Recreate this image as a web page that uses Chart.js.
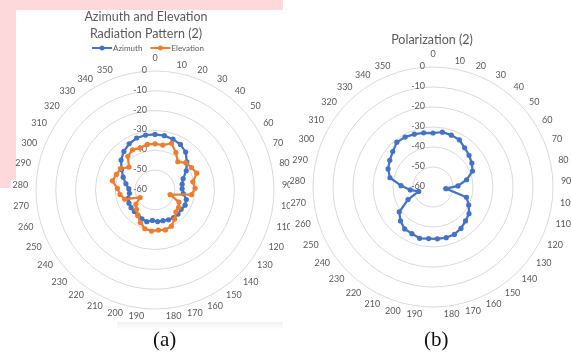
<!DOCTYPE html>
<html><head><meta charset="utf-8">
<script src="https://cdn.jsdelivr.net/npm/chart.js@4.4.1/dist/chart.umd.min.js"></script>
<style>
html,body{margin:0;padding:0;background:#fff;width:571px;height:353px;overflow:hidden;position:relative;font-family:Lato,sans-serif}
canvas{position:absolute;left:0;top:0}
.pink{position:absolute;background:#fdd9dc}
.cap{position:absolute;font-family:"Liberation Serif",serif;font-size:21px;color:#111}
.wrap{position:absolute;overflow:hidden}
</style></head>
<body>
<div class="pink" style="left:0;top:0;width:283px;height:10px"></div>
<div class="pink" style="left:0;top:0;width:16px;height:180px"></div>
<div class="pink" style="left:0;top:180px;width:11px;height:8px"></div>
<div style="position:absolute;left:117px;top:322px;width:166px;height:8px;background:linear-gradient(#f2f2f2,#fff)"></div>
<div class="wrap" style="left:0;top:0;width:290px;height:330px"><canvas id="c1" width="310" height="330"></canvas></div>
<div class="wrap" style="left:290px;top:0;width:281px;height:330px"><canvas id="c2" width="300" height="330"></canvas></div>
<div class="cap" style="left:153px;top:327px">(a)</div>
<div class="cap" style="left:424px;top:327px">(b)</div>
<script>
// 37 categories: 0..350 plus a closing (unlabelled) 360 sample
const angleLabels = ['0','10','20','30','40','50','60','70','80','90','100','110','120','130','140','150','160','170','180','190','200','210','220','230','240','250','260','270','280','290','300','310','320','330','340','350',''];
const rTicks = [0,-10,-20,-30,-40,-50,-60];
const azimuth = [-32,-32.2,-32.8,-33.7,-35.4,-38.6,-41.5,-44.7,-46,-46.3,-45.6,-43.5,-43,-43.6,-43.2,-43.2,-43.5,-44,-44,-44.6,-43.5,-44,-44.7,-45,-45,-45.3,-45.8,-47,-46.8,-45,-42.7,-40.2,-37.2,-35,-33.3,-32.2,-31.9];
const elevation = [-36.7,-37,-35,-38.4,-41.7,-39.3,-38.4,-37.3,-40.5,-39.8,-41.4,-52,-46.5,-45.2,-44.8,-42.3,-40,-39.2,-39.7,-39.2,-39.8,-42,-44.5,-46.5,-48,-51.6,-44.1,-42.2,-41,-38,-39,-39.5,-42.5,-38.2,-36.8,-37.5,-36.7];
const polarization = [-33,-32.2,-32.5,-33,-34.8,-36,-37.2,-38.7,-42.8,-47.5,-53.5,-42.5,-40,-37.6,-36.5,-35,-34,-33.8,-34,-34.1,-33.5,-34.4,-34.7,-36.5,-39,-46,-52.5,-48.5,-44,-38,-35.8,-34.6,-33.2,-31.2,-31.4,-32,-32.5];
const titleA = ['Azimuth and Elevation','Radiation Pattern (2)'];
const titleB = ['Polarization (2)'];

const BLUE = '#4472C4', ORANGE = '#ED7D31', GREY = '#595959', GRID = '#D9D9D9';
const FONT = 'Lato, "Open Sans", sans-serif';

// value labels of the rings, right-aligned just left of the vertical axis
const tickLabelPlugin = {
  id: 'tickLabels',
  beforeDatasetsDraw(chart){
    const s = chart.scales.r, ctx = chart.ctx;
    ctx.save();
    ctx.font = '9px ' + FONT;
    ctx.fillStyle = GREY;
    ctx.textAlign = 'right';
    ctx.textBaseline = 'middle';
    s.ticks.forEach(t => {
      const p = s.getPointPositionForValue(0, t.value);
      ctx.fillText(String(t.value), p.x - 8, p.y - 1);
    });
    ctx.restore();
  }
};

// category (angle) labels placed like the spreadsheet does: side-aligned, vertically centred
const angleLabelPlugin = {
  id: 'angleLabels',
  beforeDatasetsDraw(chart){
    const s = chart.scales.r, ctx = chart.ctx;
    ctx.save();
    ctx.font = '9px ' + FONT;
    ctx.fillStyle = GREY;
    ctx.textBaseline = 'middle';
    chart.data.labels.forEach((lab, i) => {
      if (!lab) return;
      const deg = (s.getIndexAngle(i) * 180 / Math.PI + 360) % 360;
      const p = s.getPointPosition(i, s.drawingArea + 8);
      let align = 'center', y = p.y;
      if (deg > 1 && deg < 179) align = 'left';
      else if (deg > 181 && deg < 359) align = 'right';
      else if (deg <= 1 || deg >= 359) y -= 5;
      ctx.textAlign = align;
      ctx.fillText(lab, p.x, y);
    });
    ctx.restore();
  }
};

const headerPlugin = {
  id: 'header',
  afterDraw(chart, args, o){
    const ctx = chart.ctx;
    ctx.save();
    ctx.fillStyle = GREY;
    ctx.textAlign = 'center';
    ctx.textBaseline = 'middle';
    ctx.font = o.size + 'px ' + FONT;
    o.lines.forEach((l, i) => ctx.fillText(l, o.cx, o.y0 + i * o.lh));
    if (o.legend) {
      ctx.font = '8px ' + FONT;
      ctx.textAlign = 'left';
      const items = chart.data.datasets.map(d => ({text: d.label, color: d.borderColor, w: ctx.measureText(d.label).width}));
      const gap = 8, lw = 20;
      const total = items.reduce((a, it) => a + lw + 1 + it.w, 0) + gap * (items.length - 1);
      let x = o.legendCx - total / 2;
      const y = o.legendY;
      items.forEach(it => {
        ctx.strokeStyle = it.color; ctx.lineWidth = 2;
        ctx.beginPath(); ctx.moveTo(x, y); ctx.lineTo(x + lw, y); ctx.stroke();
        ctx.fillStyle = it.color; ctx.beginPath(); ctx.arc(x + lw / 2, y, 2.5, 0, Math.PI * 2); ctx.fill();
        ctx.fillStyle = GREY;
        ctx.fillText(it.text, x + lw + 1, y);
        x += lw + 1 + it.w + gap;
      });
    }
    ctx.restore();
  }
};

function ds(label, data, color, order){
  return {label, data, order, borderColor: color, backgroundColor: color, borderWidth: 2.25,
    pointRadius: 2.6, pointBorderWidth: 0, pointBackgroundColor: color, fill: false, pointStyle: 'circle'};
}

function scaleOpts(){
  return {
    min: -60, max: 0,
    ticks: {display: false, stepSize: 10},
    grid: {color: GRID, lineWidth: 1, circular: true},
    angleLines: {display: false},
    pointLabels: {display: false}
  };
}

function makeChart(id, datasets, header, pad){
  return new Chart(document.getElementById(id), {
    type: 'radar',
    data: {labels: angleLabels, datasets},
    options: {
      responsive: false, animation: false, devicePixelRatio: 1,
      layout: {padding: pad},
      elements: {line: {tension: 0}},
      scales: {r: scaleOpts()},
      plugins: {legend: {display: false}, title: {display: false}, tooltip: {enabled: false}, header}
    },
    plugins: [tickLabelPlugin, angleLabelPlugin, headerPlugin]
  });
}

Chart.defaults.font.family = FONT;
makeChart('c1', [ds('Azimuth', azimuth, BLUE, 2), ds('Elevation', elevation, ORANGE, 1)],
  {lines: titleA, cx: 146, y0: 17, lh: 17, size: 12.5, legend: true, legendY: 48, legendCx: 148},
  {top: 71, bottom: 21, left: 36, right: 36});
makeChart('c2', [ds('Polarization', polarization, BLUE, 1)],
  {lines: titleB, cx: 142, y0: 40, lh: 17, size: 12.5, legend: false},
  {top: 67, bottom: 23, left: 23, right: 37});
</script>
</body></html>
